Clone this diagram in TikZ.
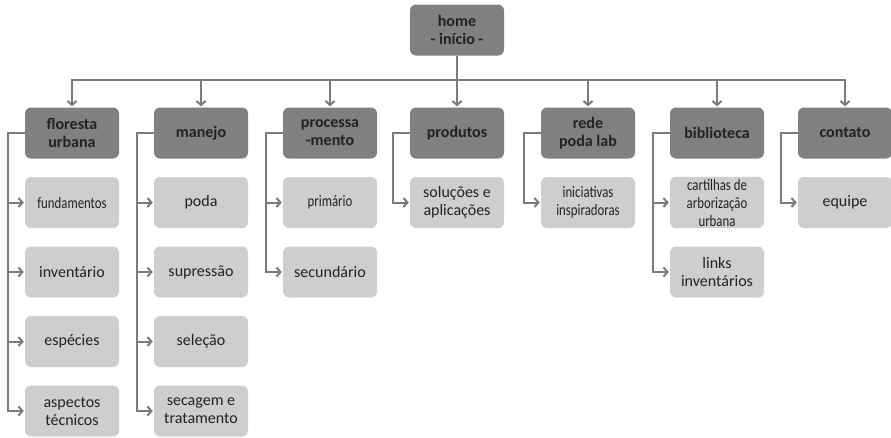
\documentclass[tikz,border=0pt]{standalone}
\usepackage{fontspec}
\setmainfont{Carlito}
\newfontfamily\condfont[FakeStretch=0.8]{Carlito}
\usetikzlibrary{arrows.meta,positioning}
\definecolor{darkbox}{RGB}{128,128,128}
\definecolor{lightbox}{RGB}{206,206,206}
\definecolor{linegray}{RGB}{122,122,122}
\definecolor{textgray}{RGB}{34,34,34}
\tikzset{
	menu/.style  = {rectangle, rounded corners=6pt, fill=darkbox, text=textgray,
		minimum width=94pt, minimum height=51pt, align=center, inner sep=2pt,
		font=\fontsize{16}{18}\selectfont\bfseries},
	page/.style  = {rectangle, rounded corners=6pt, fill=lightbox, text=textgray,
		minimum width=94pt, minimum height=51pt, align=center, inner sep=2pt,
		font=\fontsize{16}{18}\selectfont},
	link/.style  = {draw=linegray, line width=2pt, shorten >=1pt},
	bus/.style   = {coordinate} % junction of the menu line
}
\newcommand{\narrow}[1]{{\condfont #1}}

\begin{document}
\begin{tikzpicture}[x=1pt, y=-1pt, node distance=69.5pt,
	>={Straight Barb[length=4pt, width=9pt]}]
\useasboundingbox (0,0) rectangle (891,437);
\draw
% Drawing the start page and the menu
node at (457,30)[menu] (home) {home\\- início -}
node at (72,133)[menu] (flor) {floresta\\urbana}
node at (201,133)[menu] (mane) {manejo}
node at (330,133)[menu] (proc) {processa\\-mento}
node at (457,133)[menu] (prod) {produtos}
node at (588,133)[menu] (rede) {rede\\poda lab}
node at (717,133)[menu] (bibl) {biblioteca}
node at (845,133)[menu] (cont) {contato};

\draw
% Drawing the pages below each menu item
node[page, below of = flor] (fund) {\narrow{fundamentos}}
node[page, below of = fund] (inve) {inventário}
node[page, below of = inve] (espe) {espécies}
node[page, below of = espe] (aspe) {aspectos\\técnicos}
node[page, below of = mane] (poda) {poda}
node[page, below of = poda] (supr) {supressão}
node[page, below of = supr] (sele) {seleção}
node[page, below of = sele] (seca) {secagem e\\tratamento}
node[page, below of = proc] (prim) {\narrow{primário}}
node[page, below of = prim] (secu) {secundário}
node[page, below of = prod] (solu) {soluções e\\aplicações}
node[page, below of = rede] (inic) {\narrow{iniciativas}\\\narrow{inspiradoras}}
node[page, below of = bibl] (cart) {\narrow{cartilhas de}\\\narrow{arborização}\\\narrow{urbana}}
node[page, below of = cart] (inli) {links\\inventários}
node[page, below of = cont] (equi) {equipe};

\coordinate[bus] (bus) at (457,80);

\draw[link, ->](home) -- (prod);
\draw[link, ->](bus) -| (flor);
\draw[link, ->](bus) -| (mane);
\draw[link, ->](bus) -| (proc);
\draw[link, ->](bus) -| (rede);
\draw[link, ->](bus) -| (bibl);
\draw[link, ->](bus) -| (cont);

\draw[link, ->](flor.west) -- ++(-17,0) |- (fund);
\draw[link, ->](flor.west) -- ++(-17,0) |- (inve);
\draw[link, ->](flor.west) -- ++(-17,0) |- (espe);
\draw[link, ->](flor.west) -- ++(-17,0) |- (aspe);
\draw[link, ->](mane.west) -- ++(-17,0) |- (poda);
\draw[link, ->](mane.west) -- ++(-17,0) |- (supr);
\draw[link, ->](mane.west) -- ++(-17,0) |- (sele);
\draw[link, ->](mane.west) -- ++(-17,0) |- (seca);
\draw[link, ->](proc.west) -- ++(-17,0) |- (prim);
\draw[link, ->](proc.west) -- ++(-17,0) |- (secu);
\draw[link, ->](prod.west) -- ++(-17,0) |- (solu);
\draw[link, ->](rede.west) -- ++(-17,0) |- (inic);
\draw[link, ->](bibl.west) -- ++(-17,0) |- (cart);
\draw[link, ->](bibl.west) -- ++(-17,0) |- (inli);
\draw[link, ->](cont.west) -- ++(-17,0) |- (equi);
\end{tikzpicture}
\end{document}
